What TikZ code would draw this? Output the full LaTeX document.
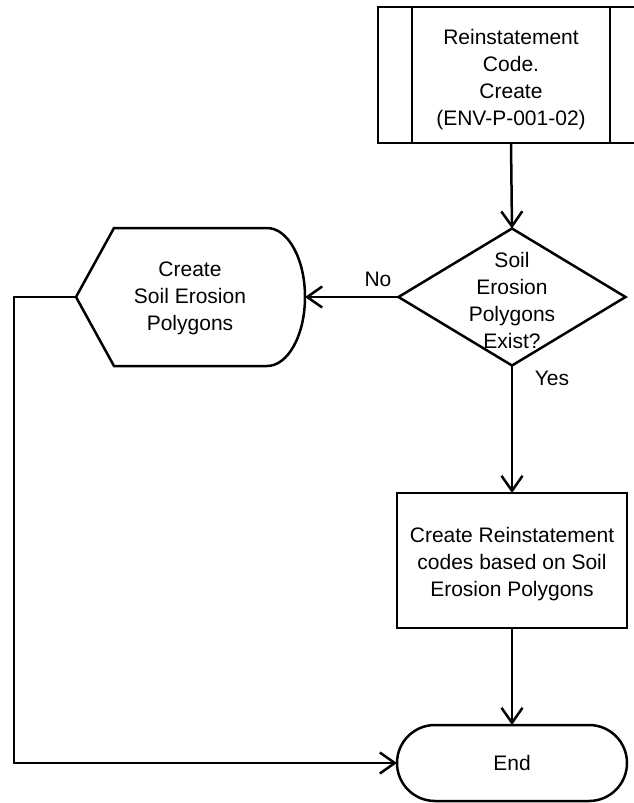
\documentclass[tikz,border=0pt]{standalone}
\usepackage{fontspec}
\setmainfont{Liberation Sans}
\usetikzlibrary{arrows.meta,shapes.geometric}
\begin{document}
\begin{tikzpicture}[x=1pt,y=-1pt,
  line width=2.5pt,
  every node/.style={inner sep=0pt, outer sep=0pt},
  txt/.style={align=center, font=\fontsize{21}{27}\selectfont},
  lbl/.style={font=\fontsize{21}{27}\selectfont},
  flow/.style={-{Straight Barb[length=15pt,width=21pt,line width=2.5pt]}},
  boxshape/.style={rectangle, draw, minimum width=#1},
  frame/.style={rectangle, minimum width=#1}]
\useasboundingbox (0,0) rectangle (634,803);
\clip (0,0) rectangle (634,803);

% predefined process (sub-process) box, runs off the right edge
\node[frame=266pt, minimum height=136pt, draw] (pp) at (511,75) {};
\draw ([xshift=34pt]pp.north west) -- ([xshift=34pt]pp.south west);
\draw ([xshift=-34pt]pp.north east) -- ([xshift=-34pt]pp.south east);
\node[txt] (pptext) at (511,80) {Reinstatement\\Code.\\Create\\(ENV-P-001-02)};

% decision
\node[diamond, draw, minimum width=227pt, minimum height=137pt] (dec) at (512,297) {};
\node[txt] (dectext) at (512,300) {Soil\\Erosion\\Polygons\\Exist?};

% display shape
\node[frame=229pt, minimum height=138pt] (disp) at (190.5,297) {};
\draw (disp.west) -- ([xshift=38pt]disp.north west) -- ([xshift=-38pt]disp.north east)
  arc[start angle=90, end angle=-90, x radius=38pt, y radius=69pt]
  -- ([xshift=38pt]disp.south west) -- cycle;
\node[txt] (disptext) at (190,298) {Create\\Soil Erosion\\Polygons};

% process
\node[boxshape=230pt, minimum height=135pt] (proc) at (512,560.5) {};
\node[txt] (proctext) at (512,564) {Create Reinstatement\\codes based on Soil\\Erosion Polygons};

% terminator
\node[rectangle, draw, rounded corners=38pt, minimum width=230pt, minimum height=76pt,
  txt] (end) at (512,763) {End};

% connectors
\coordinate (bend1) at (14,297);
\coordinate (bend2) at (14,763);
\draw[flow] (pp.south) -- (dec.north);
\draw[flow] (dec.west) -- (disp.east);
\draw[flow] (dec.south) -- (proc.north);
\draw[flow] (proc.south) -- (end.north);
\draw[flow] (disp.west) -- (bend1) -- (bend2) -- (end.west);

% branch labels
\node[lbl] (nolbl) at (378,279) {No};
\node[lbl] (yeslbl) at (552,378) {Yes};
\end{tikzpicture}
\end{document}
